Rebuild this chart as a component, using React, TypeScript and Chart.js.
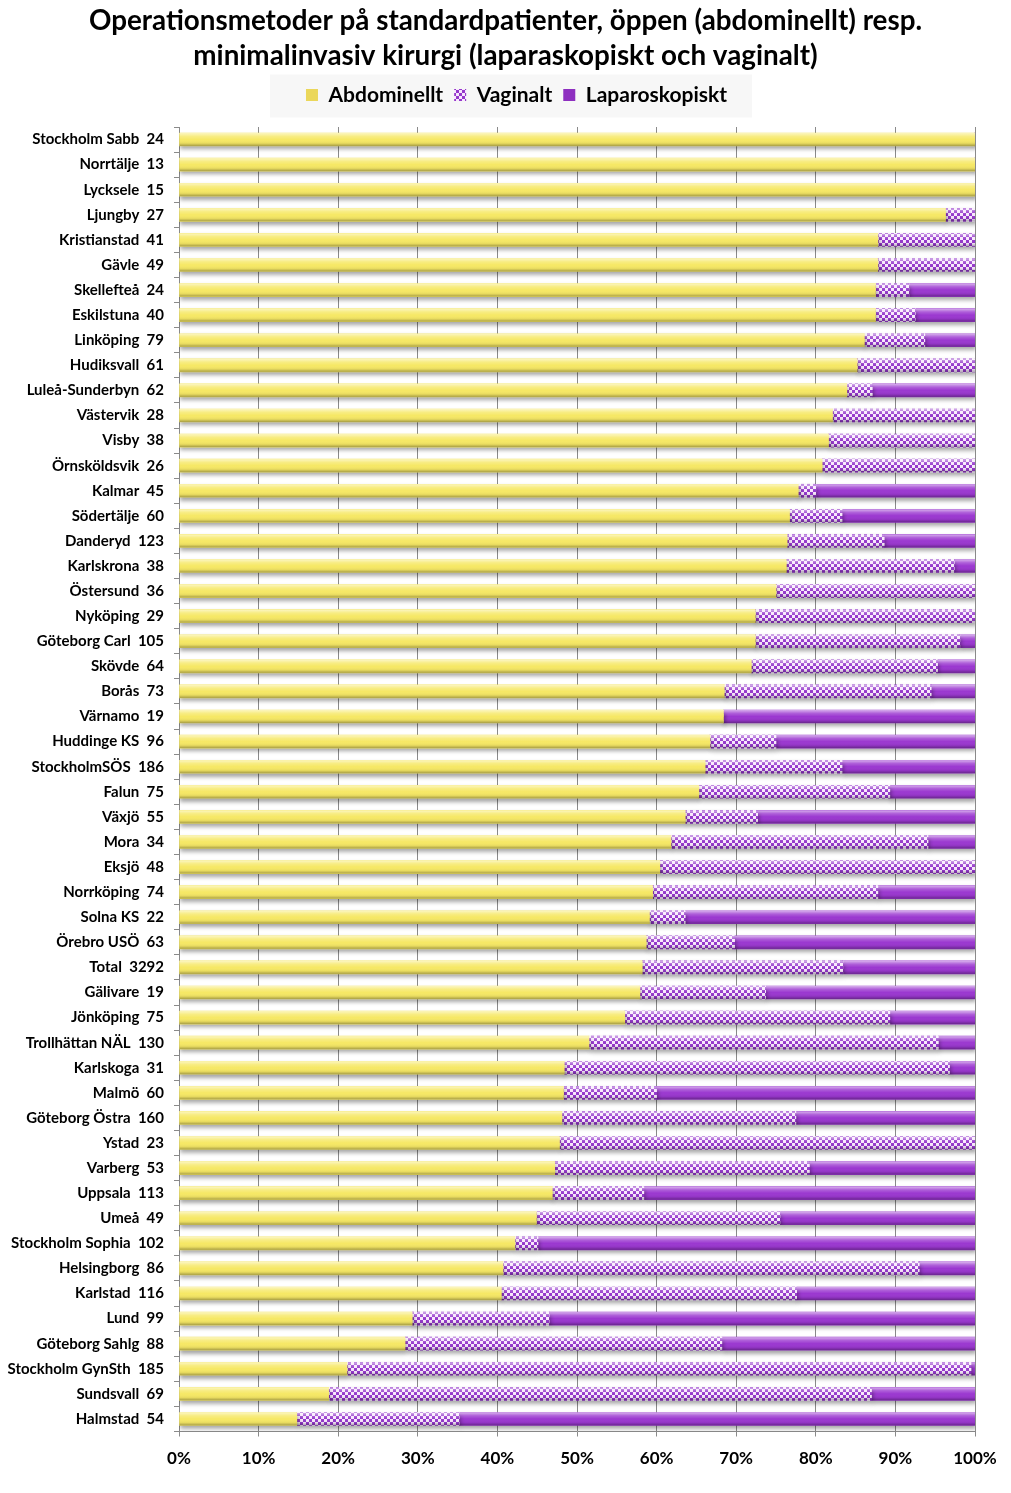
import React, { useEffect, useRef } from "react";
import { Chart, registerables } from "chart.js";

Chart.register(...registerables);

const titleLines = [
  "Operationsmetoder på standardpatienter, öppen (abdominellt) resp.",
  "minimalinvasiv kirurgi (laparaskopiskt och vaginalt)",
];

const categories = [
  "Stockholm Sabb  24",
  "Norrtälje  13",
  "Lycksele  15",
  "Ljungby  27",
  "Kristianstad  41",
  "Gävle  49",
  "Skellefteå  24",
  "Eskilstuna  40",
  "Linköping  79",
  "Hudiksvall  61",
  "Luleå-Sunderbyn  62",
  "Västervik  28",
  "Visby  38",
  "Örnsköldsvik  26",
  "Kalmar  45",
  "Södertälje  60",
  "Danderyd  123",
  "Karlskrona  38",
  "Östersund  36",
  "Nyköping  29",
  "Göteborg Carl  105",
  "Skövde  64",
  "Borås  73",
  "Värnamo  19",
  "Huddinge KS  96",
  "StockholmSÖS  186",
  "Falun  75",
  "Växjö  55",
  "Mora  34",
  "Eksjö  48",
  "Norrköping  74",
  "Solna KS  22",
  "Örebro USÖ  63",
  "Total  3292",
  "Gälivare  19",
  "Jönköping  75",
  "Trollhättan NÄL  130",
  "Karlskoga  31",
  "Malmö  60",
  "Göteborg Östra  160",
  "Ystad  23",
  "Varberg  53",
  "Uppsala  113",
  "Umeå  49",
  "Stockholm Sophia  102",
  "Helsingborg  86",
  "Karlstad  116",
  "Lund  99",
  "Göteborg Sahlg  88",
  "Stockholm GynSth  185",
  "Sundsvall  69",
  "Halmstad  54",
];

const abdominellt = [
  100, 100, 100, 96.3, 87.8, 87.8, 87.5, 87.5, 86.1, 85.2,
  83.9, 82.1, 81.6, 80.8, 77.8, 76.7, 76.4, 76.3, 75.0, 72.4,
  72.4, 71.9, 68.5, 68.4, 66.7, 66.1, 65.3, 63.6, 61.8, 60.4,
  59.5, 59.1, 58.7, 58.2, 57.9, 56.0, 51.5, 48.4, 48.3, 48.1,
  47.8, 47.2, 46.9, 44.9, 42.2, 40.7, 40.5, 29.3, 28.4, 21.1,
  18.8, 14.8,
];

const vaginalt = [
  0, 0, 0, 3.7, 12.2, 12.2, 4.2, 5.0, 7.6, 14.8,
  3.2, 17.9, 18.4, 19.2, 2.2, 6.6, 12.2, 21.1, 25.0, 27.6,
  25.7, 23.4, 26.0, 0, 8.3, 17.2, 24.0, 9.1, 32.3, 39.6,
  28.3, 4.5, 11.1, 25.2, 15.8, 33.3, 43.9, 48.4, 11.7, 29.4,
  52.2, 32.0, 11.5, 30.6, 2.9, 52.3, 37.1, 17.2, 39.8, 78.4,
  68.2, 20.4,
];

const laparoskopiskt = [
  0, 0, 0, 0, 0, 0, 8.3, 7.5, 6.3, 0,
  12.9, 0, 0, 0, 20.0, 16.7, 11.4, 2.6, 0, 0,
  1.9, 4.7, 5.5, 31.6, 25.0, 16.7, 10.7, 27.3, 5.9, 0,
  12.2, 36.4, 30.2, 16.6, 26.3, 10.7, 4.6, 3.2, 40.0, 22.5,
  0, 20.8, 41.6, 24.5, 54.9, 7.0, 22.4, 53.5, 31.8, 0.5,
  13.0, 64.8,
];

const seriesNames = ["Abdominellt", "Vaginalt", "Laparoskopiskt"];
const xTickValues = [0, 10, 20, 30, 40, 50, 60, 70, 80, 90, 100];

const FONT = "Lato, 'Open Sans', sans-serif";

function makeChecker(c1: string, c2: string, size: number) {
  const cv = document.createElement("canvas");
  cv.width = size * 2;
  cv.height = size * 2;
  const g = cv.getContext("2d")!;
  g.fillStyle = c2;
  g.fillRect(0, 0, size * 2, size * 2);
  g.fillStyle = c1;
  g.fillRect(0, 0, size, size);
  g.fillRect(size, size, size, size);
  return g.createPattern(cv, "repeat")!;
}

const shadePlugin = {
  id: "shade",
  beforeLayout(chart: any) {
    const lg = chart.legend;
    if (lg && !lg.__wrapped) {
      const orig = lg.fit;
      lg.fit = function () {
        orig.call(this);
        this.height = 53.5;
      };
      lg.__wrapped = true;
    }
  },
  afterLayout(chart: any) {
    const tb = chart.titleBlock;
    if (tb) {
      tb.left = 0;
      tb.right = chart.width;
      tb.width = chart.width;
    }
    const lg = chart.legend;
    if (lg) {
      lg.left = 22;
      lg.right = chart.width;
      lg.width = chart.width - 22;
    }
  },
  beforeDraw(chart: any) {
    const lg = chart.legend;
    if (!lg || !lg.legendHitBoxes || !lg.legendHitBoxes.length) return;
    const boxes = lg.legendHitBoxes;
    const first = boxes[0];
    const last = boxes[boxes.length - 1];
    const ctx = chart.ctx;
    ctx.save();
    ctx.fillStyle = "rgba(240,240,240,0.55)";
    ctx.fillRect(first.left - 36, first.top - 10, last.left + last.width - first.left + 61, first.height + 22);
    ctx.restore();
  },
  beforeDatasetsDraw(chart: any) {
    const ctx = chart.ctx;
    ctx.save();
    ctx.shadowColor = "rgba(0,0,0,0.35)";
    ctx.shadowBlur = 4;
    ctx.shadowOffsetX = 1;
    ctx.shadowOffsetY = 3;
  },
  afterDatasetsDraw(chart: any) {
    const ctx = chart.ctx;
    ctx.restore();
    ctx.save();
    chart.data.datasets.forEach((_: any, di: number) => {
      const meta = chart.getDatasetMeta(di);
      meta.data.forEach((el: any) => {
        const p = el.getProps(["x", "y", "base", "height"], true);
        const left = Math.min(p.x, p.base);
        const right = Math.max(p.x, p.base);
        if (right - left < 0.5) return;
        const top = p.y - p.height / 2;
        const g = ctx.createLinearGradient(0, top, 0, top + p.height);
        g.addColorStop(0, "rgba(255,255,255,0.6)");
        g.addColorStop(0.25, "rgba(255,255,255,0.2)");
        g.addColorStop(0.5, "rgba(255,255,255,0)");
        g.addColorStop(0.78, "rgba(0,0,0,0.06)");
        g.addColorStop(1, "rgba(0,0,0,0.32)");
        ctx.fillStyle = g;
        ctx.fillRect(left, top, right - left, p.height);
      });
    });
    ctx.restore();
  },
};

export default function App() {
  const ref = useRef<HTMLCanvasElement | null>(null);

  useEffect(() => {
    if (!ref.current) return;
    const checker = makeChecker("#9538CC", "#F8E8FC", 3);
    const colors = ["#F6E865", checker, "#9B38D0"];
    const legendColors = ["#EBD75A", checker, "#8E2FC0"];
    const data = [abdominellt, vaginalt, laparoskopiskt];
    const chart = new Chart(ref.current, {
      type: "bar",
      data: {
        labels: categories,
        datasets: seriesNames.map((name, i) => ({
          label: name,
          data: data[i],
          backgroundColor: colors[i] as any,
          borderWidth: 0,
          barThickness: 13,
        })),
      },
      plugins: [shadePlugin as any],
      options: {
        indexAxis: "y",
        animation: false,
        responsive: false,
        maintainAspectRatio: false,
        layout: { padding: { left: 0, right: 36, top: 0, bottom: 0 } },
        plugins: {
          title: {
            display: true,
            text: titleLines,
            color: "#000",
            font: { family: FONT, size: 27.8, weight: "bold", lineHeight: 1.259 },
            padding: { top: 3.5, bottom: 0 },
          },
          legend: {
            display: true,
            position: "top",
            labels: {
              color: "#000",
              font: { family: FONT, size: 21, weight: "bold" },
              boxWidth: 12,
              boxHeight: 12,
              padding: 11,
              generateLabels: (ch: any) =>
                ch.data.datasets.map((ds: any, i: number) => ({
                  text: ds.label,
                  fillStyle: legendColors[i],
                  strokeStyle: "rgba(0,0,0,0)",
                  lineWidth: 0,
                  hidden: false,
                  datasetIndex: i,
                  fontColor: "#000",
                })),
            },
          },
          tooltip: { enabled: false },
        },
        scales: {
          x: {
            stacked: true,
            min: 0,
            max: 100,
            afterBuildTicks: (scale: any) => {
              scale.ticks = xTickValues.map((v) => ({ value: v }));
            },
            afterFit: (scale: any) => {
              scale.height = 61.5;
            },
            ticks: {
              color: "#000",
              font: { family: FONT, size: 17, weight: "bold" },
              padding: 12,
              maxRotation: 0,
              callback: (v: any) => v + "%",
            },
            grid: { color: "#8a8a8a", lineWidth: 1, tickLength: 5, drawTicks: true },
            border: { color: "#8a8a8a" },
          },
          y: {
            stacked: true,
            afterFit: (scale: any) => {
              scale.width = 179;
            },
            ticks: {
              color: "#000",
              font: { family: FONT, size: 15, weight: "bold" },
              autoSkip: false,
              padding: 10,
            },
            grid: {
              display: true,
              drawOnChartArea: false,
              drawTicks: true,
              tickLength: 5,
              color: "#8a8a8a",
              offset: true,
            },
            border: { color: "#8a8a8a" },
          },
        },
      },
    });
    return () => chart.destroy();
  }, []);

  return (
    <div style={{ position: "absolute", left: 0, top: 0, width: 1011, height: 1493, background: "#fff" }}>
      <canvas ref={ref} width={1011} height={1493} style={{ display: "block" }} />
    </div>
  );
}
